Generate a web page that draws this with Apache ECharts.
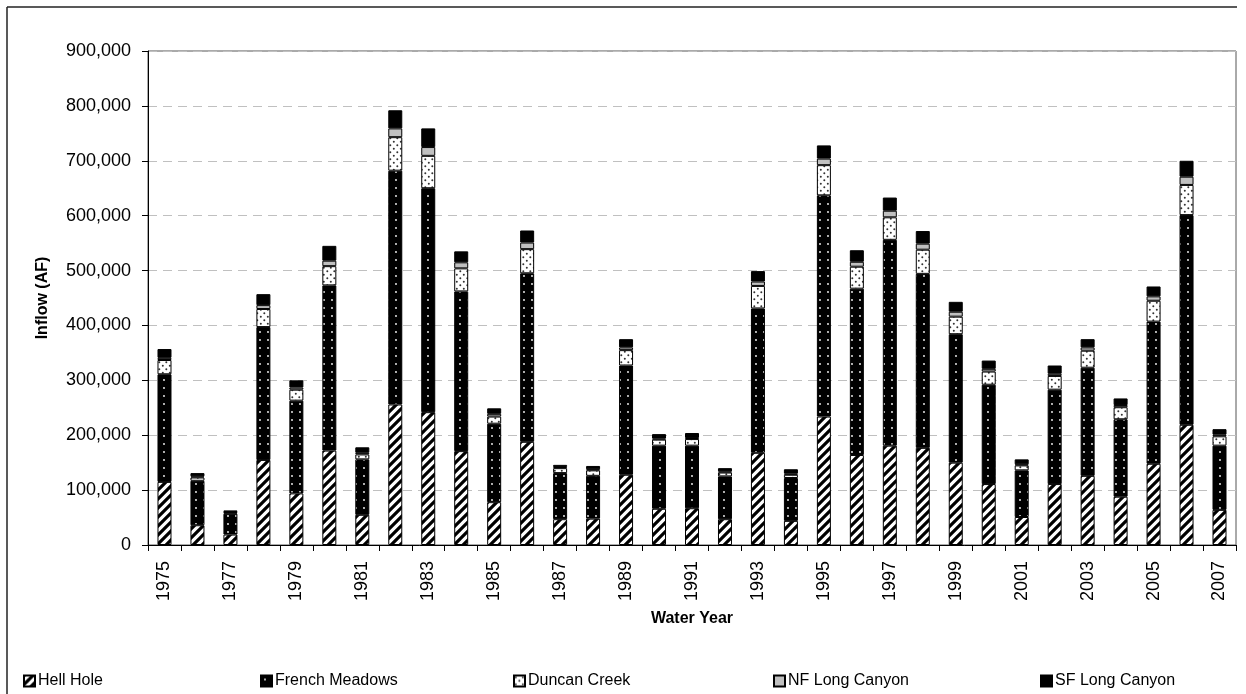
<!DOCTYPE html>
<html>
<head>
<meta charset="utf-8">
<script src="https://cdn.jsdelivr.net/npm/echarts@6/dist/echarts.min.js"></script>
<style>html,body{margin:0;padding:0;background:#fff}#c{width:1246px;height:694px}</style>
</head>
<body>
<div id="c"></div>
<script>
const years = ['1975','1976','1977','1978','1979','1980','1981','1982','1983','1984','1985','1986','1987','1988','1989','1990','1991','1992','1993','1994','1995','1996','1997','1998','1999','2000','2001','2002','2003','2004','2005','2006','2007'];
const hellHole = [115000,36000,19000,155000,94000,172000,55000,256000,242000,171000,78000,188000,47000,48000,128000,66000,67000,47000,168000,44000,234000,164000,181000,177000,150000,111000,51000,111000,126000,88000,148000,219000,64000];
const frenchMeadows = [196000,81000,38000,242000,169000,301000,101000,426000,408000,291000,143000,307000,84000,78000,199000,115000,114000,78000,263000,78000,403000,303000,375000,317000,234000,181000,85000,172000,197000,141000,259000,382000,117000];
const duncanCreek = [26000,6000,2000,33000,20000,35000,9000,61000,59000,42000,13000,44000,9000,10000,28000,11000,12000,7000,41000,6000,55000,40000,41000,44000,32000,24000,9000,25000,31000,22000,38000,55000,17000];
const nfLongCanyon = [4000,2000,1000,7000,4000,10000,3000,16000,16000,11000,5000,12000,2000,2000,5000,2000,2000,2000,8000,2000,12000,9000,12000,11000,9000,5000,2000,4000,6000,4000,8000,15000,3000];
const sfLongCanyon = [16000,6000,3000,20000,13000,27000,10000,33000,34000,20000,10000,22000,4000,6000,15000,8000,9000,6000,19000,8000,24000,21000,24000,23000,18000,15000,9000,15000,15000,12000,18000,29000,10000];
const seriesNames = ['Hell Hole','French Meadows','Duncan Creek','NF Long Canyon','SF Long Canyon'];
const yTicks = {min: 0, max: 900000, interval: 100000};

function tile(w, h, draw) {
  const c = document.createElement('canvas');
  c.width = w; c.height = h;
  const ctx = c.getContext('2d');
  draw(ctx, w, h);
  return c;
}
const hatch = tile(9, 9, (ctx, w) => {
  ctx.fillStyle = '#fff'; ctx.fillRect(0, 0, w, w);
  ctx.strokeStyle = '#000'; ctx.lineWidth = 3.2; ctx.lineCap = 'square';
  for (let k = -1; k <= 1; k++) {
    ctx.beginPath();
    ctx.moveTo(-2 + k * w, w + 2);
    ctx.lineTo(w + 2 + k * w, -2);
    ctx.stroke();
  }
});
const darkDots = tile(8, 8, (ctx) => {
  ctx.fillStyle = '#000'; ctx.fillRect(0, 0, 8, 8);
  ctx.fillStyle = '#fff';
  ctx.beginPath(); ctx.arc(4, 4, 0.9, 0, Math.PI * 2); ctx.fill();
});
const lightDots = tile(7, 7, (ctx) => {
  ctx.fillStyle = '#fff'; ctx.fillRect(0, 0, 7, 7);
  ctx.fillStyle = '#333';
  ctx.beginPath(); ctx.arc(1.8, 1.8, 1.0, 0, Math.PI * 2); ctx.fill();
  ctx.beginPath(); ctx.arc(5.3, 5.3, 1.0, 0, Math.PI * 2); ctx.fill();
});
const fills = [
  {image: hatch, repeat: 'repeat'},
  {image: darkDots, repeat: 'repeat'},
  {image: lightDots, repeat: 'repeat'},
  '#c0c0c0',
  '#000000'
];
const values = [hellHole, frenchMeadows, duncanCreek, nfLongCanyon, sfLongCanyon];
const FONT = 'Liberation Sans, Arial, sans-serif';

const legendLeft = [18, 255, 508, 768, 1035];
const legends = seriesNames.map((n, i) => ({
  data: [n], left: legendLeft[i], top: 668, orient: 'horizontal',
  icon: 'rect', itemWidth: 11, itemHeight: 11, itemGap: 4,
  textStyle: {fontFamily: FONT, fontSize: 16, color: '#000', padding: [0, 0, 0, -2]},
  selectedMode: false
}));

const chart = echarts.init(document.getElementById('c'), null, {renderer: 'canvas'});
chart.setOption({
  animation: false,
  backgroundColor: '#fff',
  grid: {left: 148, right: 10, top: 51, bottom: 149, show: true, borderColor: '#555', borderWidth: 1, backgroundColor: 'transparent'},
  legend: legends,
  graphic: [
    {type: 'line', shape: {x1: 7, y1: 7, x2: 1237, y2: 7}, style: {stroke: '#222', lineWidth: 1.5}, silent: true},
    {type: 'line', shape: {x1: 7, y1: 7, x2: 7, y2: 694}, style: {stroke: '#222', lineWidth: 1.5}, silent: true}
  ],
  xAxis: {
    type: 'category', data: years,
    name: 'Water Year', nameLocation: 'middle', nameGap: 66,
    nameTextStyle: {fontFamily: FONT, fontSize: 16, fontWeight: 'bold', color: '#000'},
    axisLine: {lineStyle: {color: '#000', width: 1}},
    axisTick: {show: true, interval: 0, alignWithLabel: false, length: 6, lineStyle: {color: '#000'}},
    axisLabel: {interval: 1, rotate: 90, margin: 16, fontFamily: FONT, fontSize: 18, color: '#000'},
    splitLine: {show: false}
  },
  yAxis: {
    type: 'value', min: yTicks.min, max: yTicks.max, interval: yTicks.interval,
    name: 'Inflow (AF)', nameLocation: 'middle', nameGap: 97, nameRotate: 90,
    nameTextStyle: {fontFamily: FONT, fontSize: 16, fontWeight: 'bold', color: '#000'},
    axisLine: {show: true, lineStyle: {color: '#000', width: 1}},
    axisTick: {show: true, length: 6, lineStyle: {color: '#000'}},
    axisLabel: {margin: 17, fontFamily: FONT, fontSize: 18, color: '#000',
      formatter: v => v.toLocaleString('en-US')},
    splitLine: {show: true, lineStyle: {color: '#c0c0c0', type: [9, 6], width: 1}}
  },
  series: seriesNames.map((n, i) => ({
    name: n, type: 'bar', stack: 'inflow', data: values[i], barWidth: 14,
    itemStyle: {color: fills[i], borderColor: '#000', borderWidth: 1},
    emphasis: {disabled: true}
  }))
});
</script>
</body>
</html>
